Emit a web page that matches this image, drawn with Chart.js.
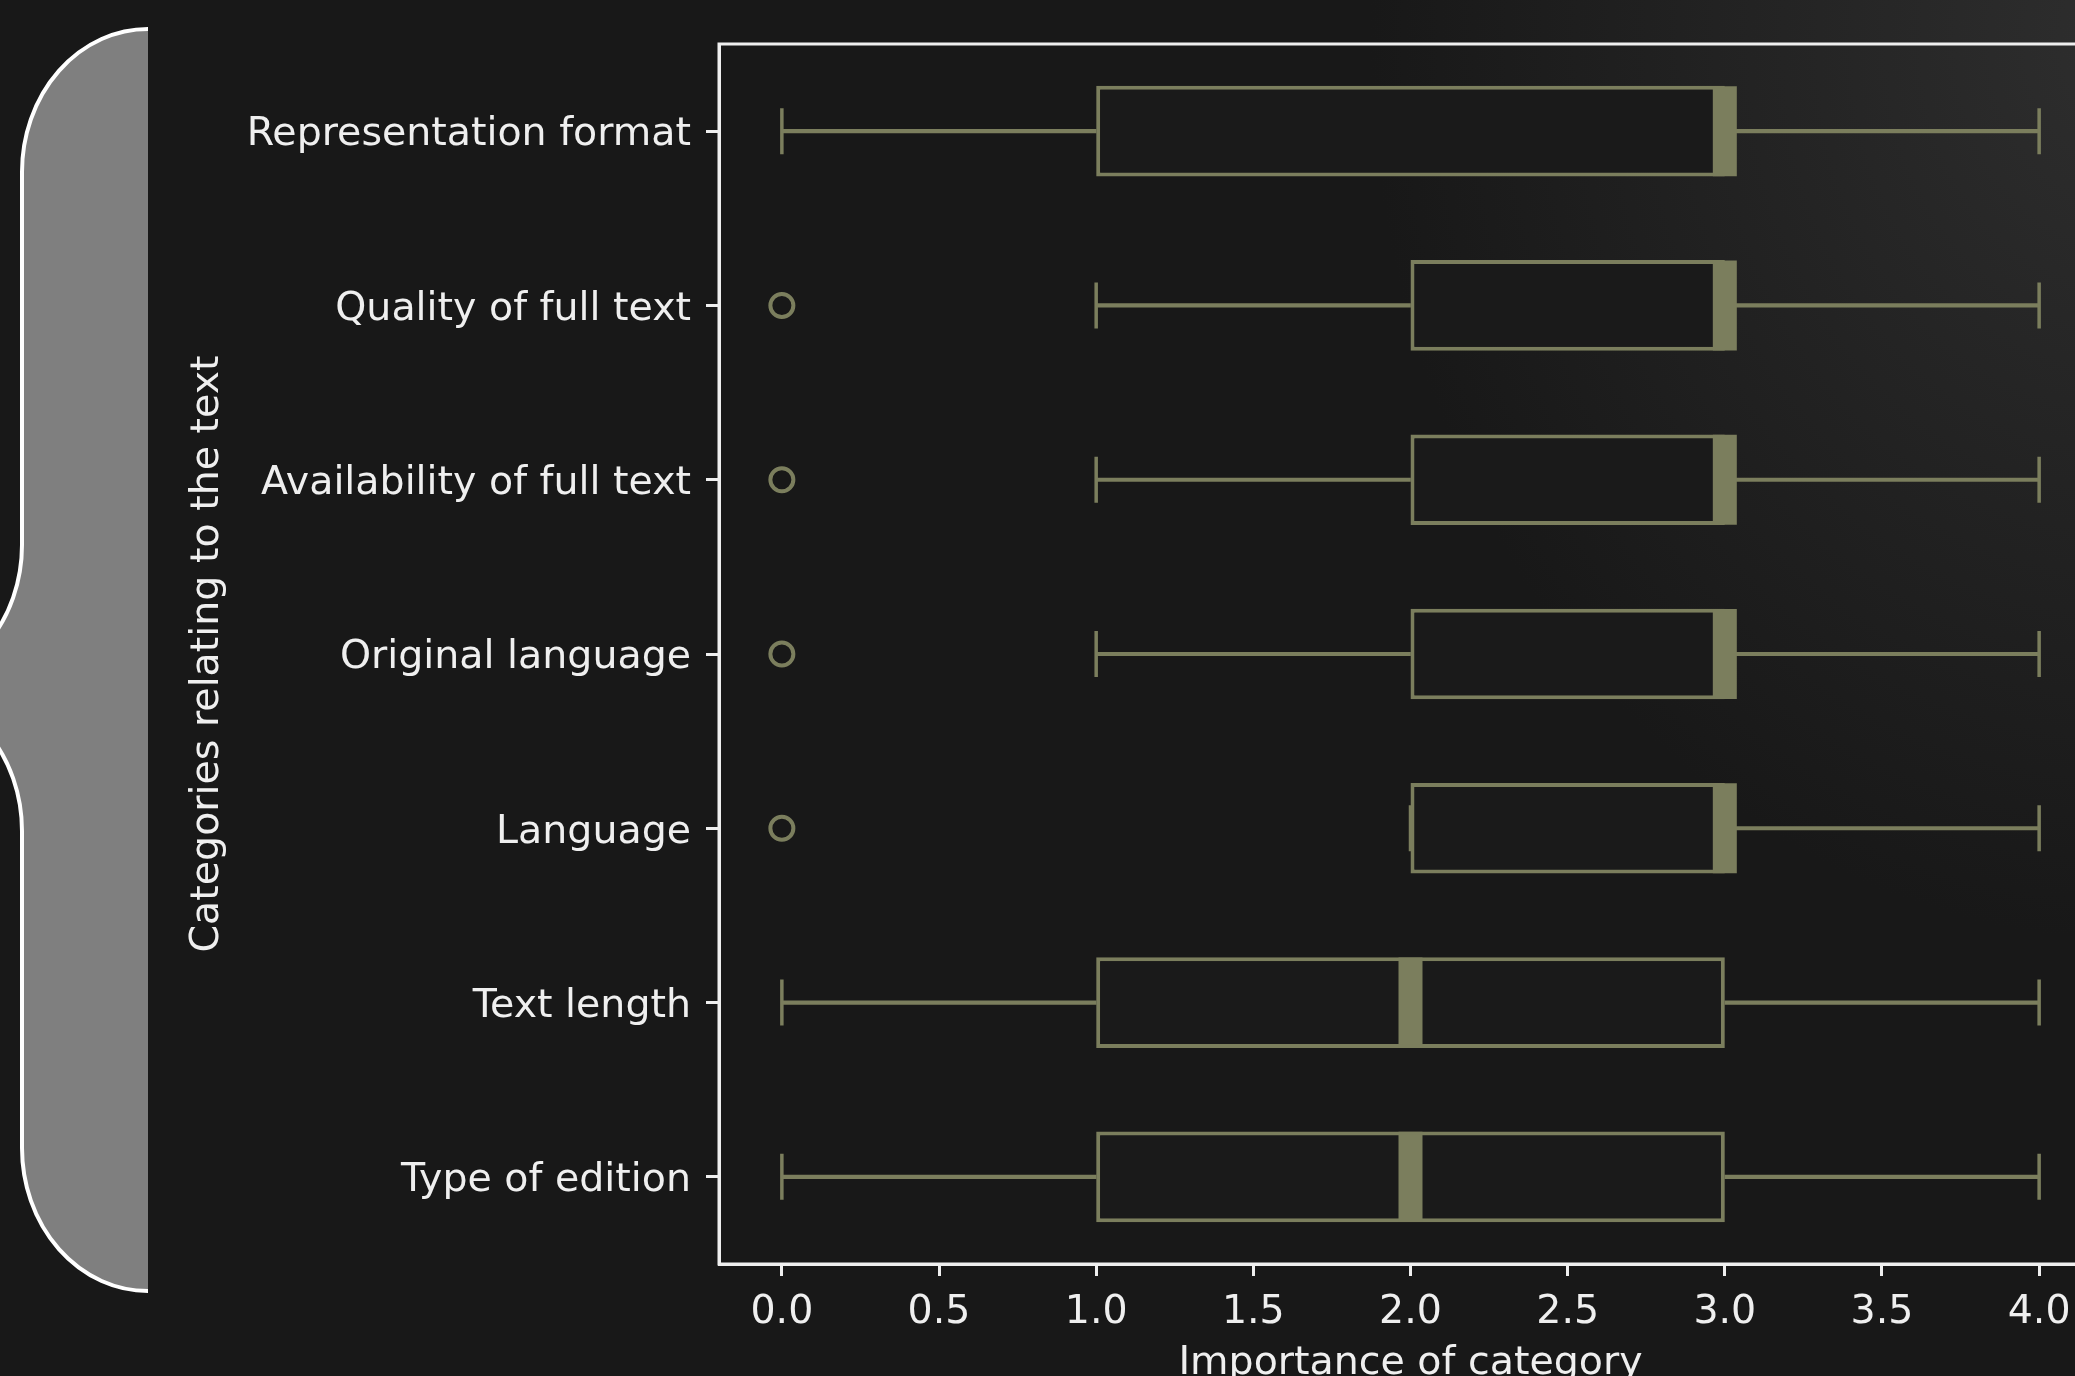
<!DOCTYPE html>
<html>
<head>
<meta charset="utf-8">
<script src="https://cdn.jsdelivr.net/npm/chart.js@4.4.1/dist/chart.umd.min.js"></script>
<style>
  html, body { margin: 0; padding: 0; width: 2075px; height: 1376px; overflow: hidden; }
  body { background: radial-gradient(ellipse 760px 900px at 2130px 40px, #2e2e2e 0%, #181818 100%), #181818; }
  #chart { position: absolute; left: 0; top: 0; }
</style>
</head>
<body>
<canvas id="chart" width="2200" height="1420"></canvas>
<script>
// box plot summary per category
const categories  = ['Representation format', 'Quality of full text', 'Availability of full text',
                     'Original language', 'Language', 'Text length', 'Type of edition'];
const whiskerLow  = [0, 1, 1, 1, 2, 0, 0];
const q1          = [1, 2, 2, 2, 2, 1, 1];
const medians     = [3, 3, 3, 3, 3, 2, 2];
const q3          = [3, 3, 3, 3, 3, 3, 3];
const whiskerHigh = [4, 4, 4, 4, 4, 4, 4];
const outliers    = [[], [0], [0], [0], [0], [], []];
const xTicks      = [0, 0.5, 1, 1.5, 2, 2.5, 3, 3.5, 4];

const OLIVE = '#7b7e5d';
const FG    = '#efefef';
const FONT  = { family: "'DejaVu Sans'", size: 39.5 };

const pts = vals => vals.map((v, i) => ({ x: v, y: categories[i] }));

/* ----------------------------------------------------------
   Decoration: grey brace on the left + frame round the axes
   ---------------------------------------------------------- */
const decor = {
  id: 'decor',
  beforeDraw(chart) {
    const ctx = chart.ctx;
    const path = new Path2D();
    path.moveTo(148, 29);
    path.ellipse(148, 172, 126, 143, 0, -Math.PI / 2, Math.PI, true);
    path.lineTo(22, 545);
    path.ellipse(-104, 545, 126, 143, 0, 0, Math.PI / 2, false);
    path.ellipse(-104, 831, 126, 143, 0, -Math.PI / 2, 0, false);
    path.lineTo(22, 1148);
    path.ellipse(148, 1148, 126, 143, 0, Math.PI, Math.PI / 2, true);
    const fill = new Path2D(path);
    fill.lineTo(148, 29);
    fill.closePath();
    ctx.save();
    ctx.fillStyle = '#7f7f7f';
    ctx.fill(fill);
    ctx.strokeStyle = '#ffffff';
    ctx.lineWidth = 4;
    ctx.stroke(path);
    ctx.restore();
  },
  afterDraw(chart) {
    const { left, top, right, bottom } = chart.chartArea;
    const ctx = chart.ctx;
    ctx.save();
    ctx.strokeStyle = FG;
    ctx.lineWidth = 3;
    ctx.strokeRect(left, top, right - left, bottom - top);
    ctx.restore();
  }
};

new Chart(document.getElementById('chart'), {
  type: 'bar',
  data: {
    labels: categories,
    datasets: [
      { type: 'scatter', label: 'Median', data: pts(medians), order: 0,
        pointStyle: 'line', pointRotation: 90, pointRadius: 45, pointHoverRadius: 45,
        pointBorderWidth: 24, pointHoverBorderWidth: 24, pointBorderColor: OLIVE },
      { type: 'scatter', label: 'Outliers', order: 1,
        data: outliers.flatMap((o, i) => o.map(v => ({ x: v, y: categories[i] }))),
        pointStyle: 'circle', pointRadius: 11.5, pointHoverRadius: 11.5,
        pointBorderWidth: 4, pointHoverBorderWidth: 4,
        pointBorderColor: OLIVE, pointBackgroundColor: 'transparent' },
      { type: 'scatter', label: 'Caps', data: [...pts(whiskerLow), ...pts(whiskerHigh)], order: 2,
        pointStyle: 'line', pointRotation: 90, pointRadius: 23, pointHoverRadius: 23,
        pointBorderWidth: 3.5, pointHoverBorderWidth: 3.5, pointBorderColor: OLIVE },
      { label: 'Box', data: q1.map((v, i) => [v, q3[i]]), order: 3,
        backgroundColor: '#1a1a1a', borderColor: OLIVE, borderWidth: 4, borderSkipped: false,
        barPercentage: 0.52, categoryPercentage: 1, grouped: false },
      { label: 'Lower whisker', data: whiskerLow.map((v, i) => [v, q1[i]]), order: 4,
        backgroundColor: OLIVE, barThickness: 3.5, grouped: false },
      { label: 'Upper whisker', data: q3.map((v, i) => [v, whiskerHigh[i]]), order: 4,
        backgroundColor: OLIVE, barThickness: 3.5, grouped: false },
    ],
  },
  options: {
    indexAxis: 'y',
    responsive: false,
    animation: false,
    events: [],
    layout: { autoPadding: false, padding: { left: 0, top: 44, right: 98, bottom: 0 } },
    plugins: { legend: { display: false }, tooltip: { enabled: false } },
    scales: {
      x: {
        type: 'linear', min: -0.2, max: 4.2,
        afterBuildTicks: s => { s.ticks = xTicks.map(v => ({ value: v })); },
        grid: { drawOnChartArea: false, tickLength: 12, tickWidth: 3, tickColor: FG },
        border: { display: true, color: FG, width: 3 },
        ticks: { color: FG, font: FONT, padding: 13, maxRotation: 0, callback: v => v.toFixed(1) },
        title: { display: true, text: 'Importance of category', color: FG, font: FONT,
                 padding: { top: 0, bottom: 33 } },
        afterFit: s => { s.height = 156; s.paddingLeft = 0; s.paddingRight = 0; },
      },
      y: {
        type: 'category', offset: true,
        grid: { offset: false, drawOnChartArea: false, tickLength: 13, tickWidth: 3, tickColor: FG },
        border: { display: true, color: FG, width: 3 },
        ticks: { color: FG, font: FONT, padding: 15, labelOffset: 4 },
        title: { display: true, text: 'Categories relating to the text', color: FG, font: FONT,
                 padding: { top: 184, bottom: 0 } },
        afterFit: s => { s.width = 719; s.paddingTop = 0; s.paddingBottom = 0; },
      },
    },
  },
  plugins: [decor],
});
</script>
</body>
</html>
